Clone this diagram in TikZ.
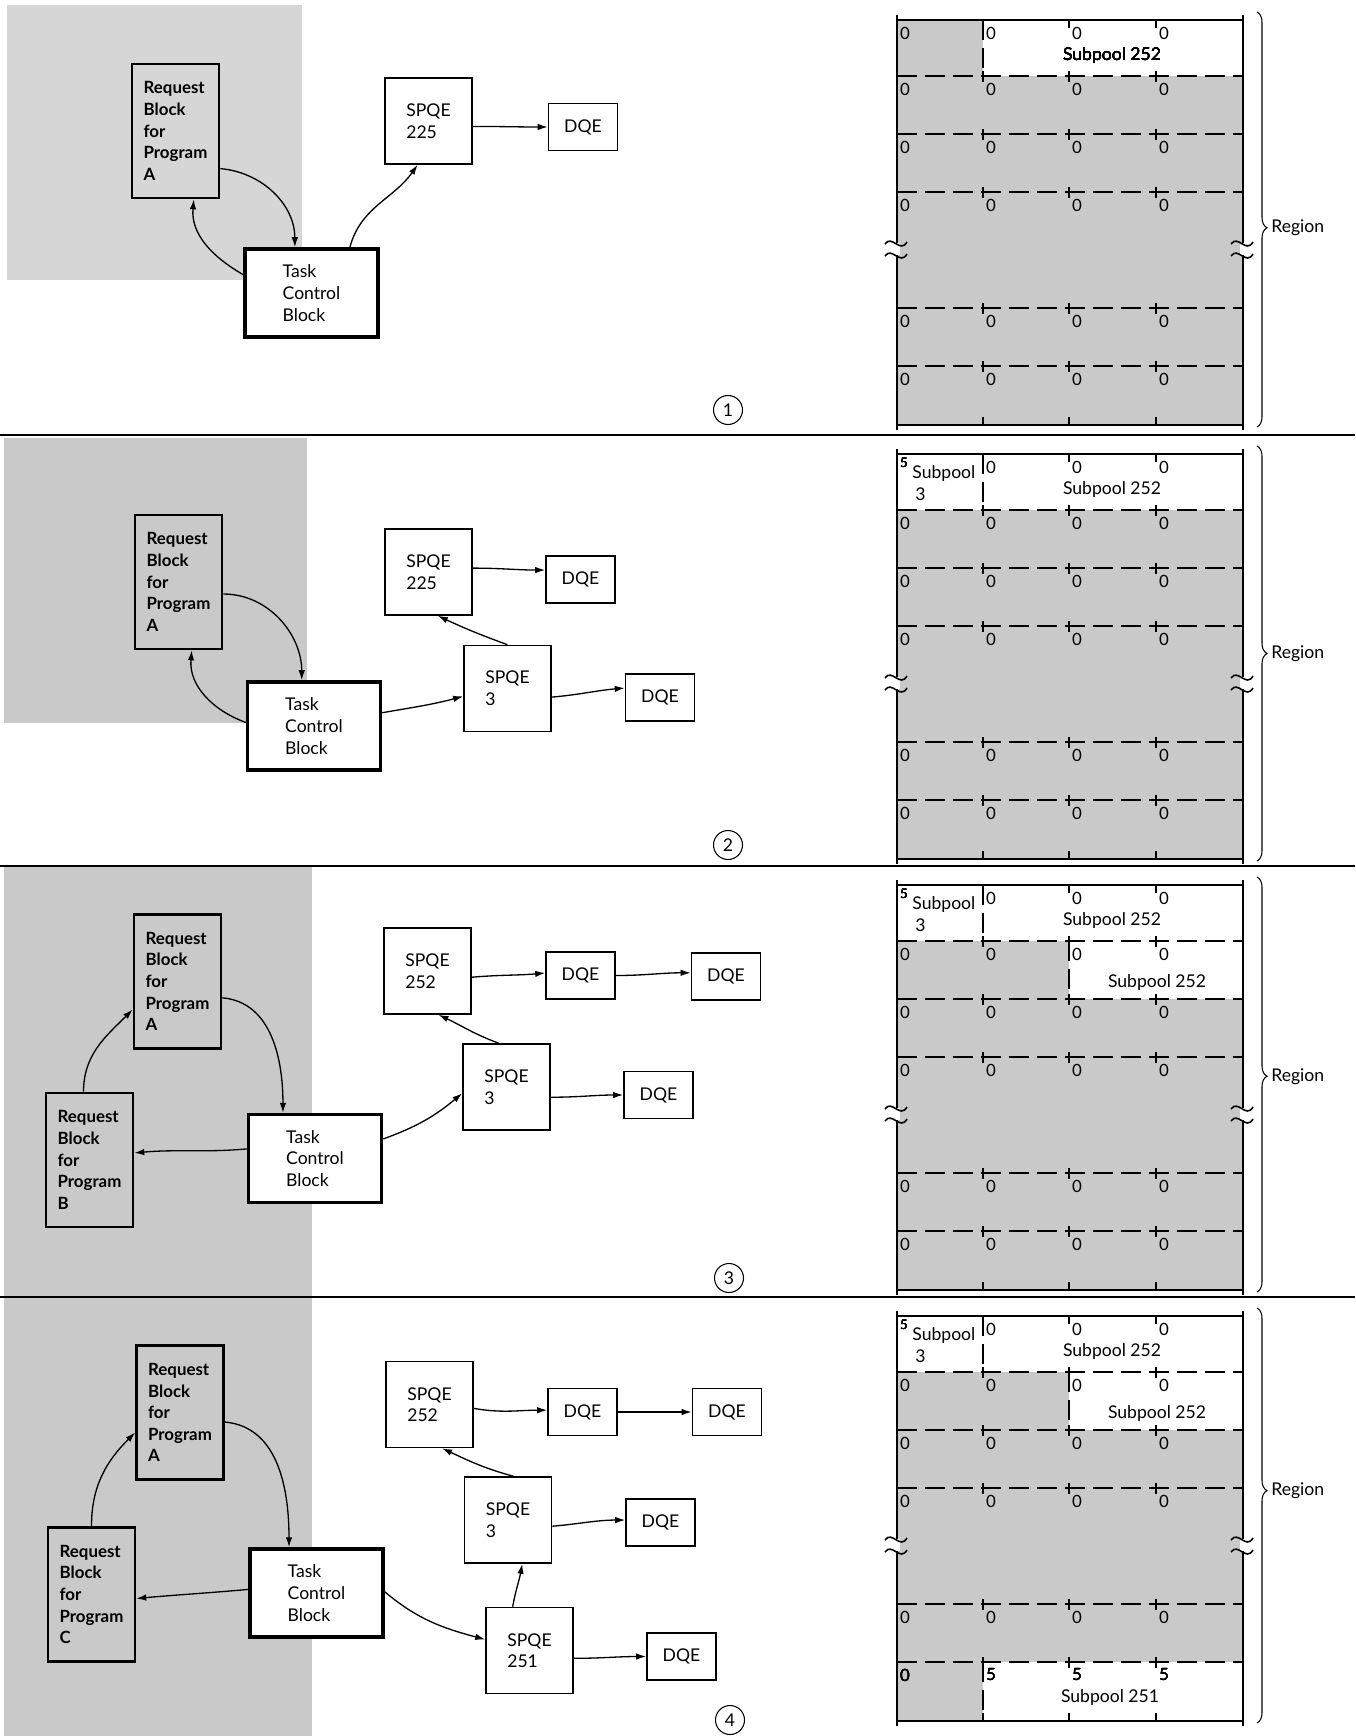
\documentclass[tikz,border=0pt]{standalone}
\usepackage{fontspec}
\setmainfont{Lato}
\usetikzlibrary{arrows.meta,decorations.pathreplacing}
\definecolor{paneltone}{gray}{0.79}
\definecolor{lighttone}{gray}{0.84}
\definecolor{maptone}{gray}{0.79}
\tikzset{
  cbbox/.style={draw, align=left, inner sep=0pt, line width=0.9pt, fill=white,
    font=\fontsize{10}{12.3}\selectfont},
  rbbox/.style={cbbox, fill=none, line width=1.5pt, minimum width=17.4mm,
    minimum height=26.8mm, font=\bfseries\fontsize{9.6}{12.3}\selectfont},
  tcbbox/.style={cbbox, line width=2pt, minimum width=26.6mm, minimum height=17.6mm},
  spqebox/.style={cbbox, minimum width=17.4mm, minimum height=17.2mm},
  dqebox/.style={cbbox, minimum width=13.8mm, minimum height=9.4mm},
  ptr/.style={-{Latex[length=2mm,width=1.3mm]}, line width=0.75pt},
  stepno/.style={circle, draw, line width=0.6pt, minimum size=5.8mm, inner sep=0pt,
    font=\fontsize{10}{11}\selectfont},
  cellnum/.style={font=\fontsize{9.6}{10}\selectfont, inner sep=0pt},
  smallnum/.style={font=\fontsize{7.5}{8}\selectfont, inner sep=0pt},
  poolname/.style={font=\fontsize{10}{12.5}\selectfont, inner sep=0pt, align=left},
  mapline/.style={line width=1pt},
  mapdash/.style={line width=1pt, dash pattern=on 4mm off 1.6mm},
  separator/.style={line width=1.2pt},
}
% grid, ticks, breaks and brace of one region map: #1 = top, #2 = brace aspect
\newcommand\regionmap[2]{%
  \foreach \row in {56,114,172,288,346} {
    \draw[mapdash] (897,#1+\row) -- (1243,#1+\row);
    \foreach \col in {983,1069,1156}
      \draw[mapline] (\col,#1+\row-5) -- (\col,#1+\row+6);
  }
  \foreach \col in {1069,1156}
    \draw[mapline] (\col,#1) -- (\col,#1+8);
  \foreach \col in {983,1069,1156}
    \draw[mapline] (\col,#1+405) -- (\col,#1+397);
  \draw[mapline] (897,#1) -- (1243,#1) (897,#1+405) -- (1243,#1+405);
  \draw[mapline] (897,#1-5) -- (897,#1+410) (1243,#1-5) -- (1243,#1+410);
  \foreach \x in {897,1243} {
    \fill[white] (\x-3,#1+223) rectangle (\x+3,#1+235);
    \foreach \dy in {0,12}
      \draw[line width=0.9pt] (\x-12,#1+224+\dy) .. controls (\x-5,#1+214+\dy)
        and (\x+3,#1+234+\dy) .. (\x+10,#1+222+\dy);
  }
  \draw[line width=0.6pt, decorate, decoration={brace, amplitude=2mm, aspect=#2}]
    (1257,#1-8) -- (1257,#1+407);
  \node[poolname, anchor=west] (region#1) at (1271,#1-8+#2*415) {Region};
}
% one row of cell marks: #1 name, #2 y, #3 columns, #4 mark
\newcommand\cellmarks[4]{%
  \foreach \col in {#3}
    \node[cellnum] (#1-\col) at (\col+8,#2) {#4};
}

\begin{document}
\begin{tikzpicture}[x=0.2mm, y=-0.2mm]
  \useasboundingbox (0,0) rectangle (1355,1736);
  % shaded areas behind the request blocks
  \fill[lighttone] (7,5) rectangle (302,280);
  \fill[paneltone] (4,438) rectangle (307,723);
  \fill[paneltone] (4,867) rectangle (312,1297);
  \fill[paneltone] (4,1297) rectangle (312,1736);
  \foreach \y in {435,866,1297}
    \draw[separator] (0,\y) -- (1355,\y);

  % ---------- step 1 ----------
  \fill[maptone] (897,20) rectangle (1243,425);
  \fill[white] (983,20) rectangle (1243,76);
  \draw[mapdash] (983,20) -- (983,76);
  \regionmap{20}{0.52}
  \foreach \row in {0,56,114,172,288,346}
    \cellmarks{za\row}{33+\row}{897,983,1069,1156}{0}
  \node[poolname] (pool252a) at (1112,56) {Subpool 252};

  \node[rbbox] (rbA1) at (175.5,131) {Request\\Block\\for\\Program\\A};
  \node[tcbbox] (tcb1) at (311.5,293) {Task\\Control\\Block};
  \node[spqebox] (spqe1) at (428.5,121) {SPQE\\225};
  \node[dqebox] (dqe1) at (583,127) {DQE};
  \draw[ptr] (rbA1.-40) to[out=-5,in=90] (tcb1.110);
  \draw[ptr] (tcb1.165) to[out=150,in=-95] (rbA1.-75);
  \draw[ptr] (tcb1.50) to[out=75,in=-125] (spqe1.-104);
  \draw[ptr] (spqe1.-7) to[out=0,in=180] (dqe1.west);
  \node[stepno] (step1) at (728,410) {1};

  % ---------- step 2 ----------
  \fill[maptone] (897,454) rectangle (1243,859);
  \fill[white] (897,454) rectangle (1243,510);
  \draw[mapdash] (983,454) -- (983,510);
  \regionmap{454}{0.50}
  \cellmarks{zb0}{467}{983,1069,1156}{0}
  \foreach \row in {56,114,172,288,346}
    \cellmarks{zb\row}{467+\row}{897,983,1069,1156}{0}
  \node[smallnum] (five2) at (904,463) {5};
  \node[poolname, anchor=north west] (pool3b) at (912,465) {Subpool\\\,3};
  \node[poolname] (pool252b) at (1112,490) {Subpool 252};

  \node[rbbox] (rbA2) at (178.5,582) {Request\\Block\\for\\Program\\A};
  \node[tcbbox] (tcb2) at (314,726) {Task\\Control\\Block};
  \node[spqebox] (spqe2a) at (428.5,572) {SPQE\\225};
  \node[dqebox] (dqe2a) at (580.5,579.5) {DQE};
  \node[spqebox] (spqe2b) at (507.5,688.5) {SPQE\\3};
  \node[dqebox] (dqe2b) at (660,697.5) {DQE};
  \draw[ptr] (rbA2.-15) to[out=0,in=90] (tcb2.105);
  \draw[ptr] (tcb2.177) to[out=160,in=-95] (rbA2.-79);
  \draw[ptr] (tcb2.11) to[out=10,in=195] (spqe2b.190);
  \draw[ptr] (spqe2b.north) to[out=160,in=-25] (spqe2a.-78);
  \draw[ptr] (spqe2a.5) to[out=0,in=180] (dqe2a.165);
  \draw[ptr] (spqe2b.-11) to[out=5,in=185] (dqe2b.165);
  \node[stepno] (step2) at (728,845) {2};

  % ---------- step 3 ----------
  \fill[maptone] (897,885) rectangle (1243,1290);
  \fill[white] (897,885) rectangle (1243,941);
  \fill[white] (1069,941) rectangle (1243,999);
  \draw[mapdash] (983,885) -- (983,941);
  \draw[mapdash] (1069,941) -- (1069,999);
  \regionmap{885}{0.48}
  \cellmarks{zc0}{898}{983,1069,1156}{0}
  \foreach \row in {56,114,172,288,346}
    \cellmarks{zc\row}{898+\row}{897,983,1069,1156}{0}
  \node[smallnum] (five3) at (904,894) {5};
  \node[poolname, anchor=north west] (pool3c) at (912,896) {Subpool\\\,3};
  \node[poolname] (pool252c) at (1112,921) {Subpool 252};
  \node[poolname] (pool252cc) at (1157,983) {Subpool 252};

  \node[rbbox] (rbA3) at (177.5,981.5) {Request\\Block\\for\\Program\\A};
  \node[rbbox] (rbB3) at (89.5,1160) {Request\\Block\\for\\Program\\B};
  \node[tcbbox] (tcb3) at (315,1158.5) {Task\\Control\\Block};
  \node[spqebox] (spqe3a) at (427.5,971) {SPQE\\252};
  \node[dqebox] (dqe3a) at (580.5,975.5) {DQE};
  \node[dqebox] (dqe3b) at (726,976.5) {DQE};
  \node[spqebox] (spqe3b) at (506.5,1087) {SPQE\\3};
  \node[dqebox] (dqe3c) at (658.5,1095) {DQE};
  \draw[ptr] (rbB3.95) to[out=90,in=-135] (rbA3.-148);
  \draw[ptr] (rbA3.-20) to[out=-5,in=90] (tcb3.125);
  \draw[ptr] (tcb3.172) to[out=185,in=5] (rbB3.9);
  \draw[ptr] (tcb3.16) to[out=20,in=-140] (spqe3b.188);
  \draw[ptr] (spqe3b.100) to[out=160,in=-25] (spqe3a.-76);
  \draw[ptr] (spqe3a.-8) to[out=5,in=185] (dqe3a.176);
  \draw[ptr] (dqe3a.east) to[out=0,in=180] (dqe3b.174);
  \draw[ptr] (spqe3b.-13) to[out=0,in=180] (dqe3c.west);
  \node[stepno] (step3) at (729,1278) {3};

  % ---------- step 4 ----------
  \fill[maptone] (897,1316) rectangle (1243,1721);
  \fill[white] (897,1316) rectangle (1243,1372);
  \fill[white] (1069,1372) rectangle (1243,1430);
  \fill[white] (983,1662) rectangle (1243,1721);
  \draw[mapdash] (983,1316) -- (983,1372);
  \draw[mapdash] (1069,1372) -- (1069,1430);
  \draw[mapdash] (983,1662) -- (983,1721);
  \regionmap{1316}{0.44}
  \cellmarks{zd0}{1329}{983,1069,1156}{0}
  \foreach \row in {56,114,172,288}
    \cellmarks{zd\row}{1329+\row}{897,983,1069,1156}{0}
  \cellmarks{zd346}{1675}{897}{0}
  \cellmarks{zf346}{1675}{983,1069,1156}{5}
  \node[smallnum] (five4) at (904,1325) {5};
  \node[poolname, anchor=north west] (pool3d) at (912,1327) {Subpool\\\,3};
  \node[poolname] (pool252d) at (1112,1352) {Subpool 252};
  \node[poolname] (pool252dd) at (1157,1414) {Subpool 252};
  \node[poolname] (pool251d) at (1110,1698) {Subpool 251};

  \node[rbbox] (rbA4) at (180,1412.5) {Request\\Block\\for\\Program\\A};
  \node[rbbox] (rbC4) at (91.5,1594.5) {Request\\Block\\for\\Program\\C};
  \node[tcbbox] (tcb4) at (316.5,1593) {Task\\Control\\Block};
  \node[spqebox] (spqe4a) at (429.5,1404.5) {SPQE\\252};
  \node[dqebox] (dqe4a) at (582.5,1412) {DQE};
  \node[dqebox] (dqe4b) at (727,1412) {DQE};
  \node[spqebox] (spqe4b) at (508,1520) {SPQE\\3};
  \node[dqebox] (dqe4c) at (660.5,1522.5) {DQE};
  \node[spqebox] (spqe4c) at (529.5,1650.5) {SPQE\\251};
  \node[dqebox] (dqe4d) at (681.5,1656.5) {DQE};
  \draw[ptr] (rbC4.north) to[out=90,in=-135] (rbA4.-156);
  \draw[ptr] (rbA4.-12) to[out=-5,in=90] (tcb4.121);
  \draw[ptr] (tcb4.177) to[out=185,in=5] (rbC4.-5);
  \draw[ptr] (tcb4.1) to[out=-40,in=165] (spqe4c.166);
  \draw[ptr] (spqe4c.111) to[out=80,in=-100] (spqe4b.-72);
  \draw[ptr] (spqe4b.83) to[out=165,in=-25] (spqe4a.-74);
  \draw[ptr] (spqe4a.-5) to[out=-10,in=180] (dqe4a.177);
  \draw[ptr] (dqe4a.east) to[out=0,in=180] (dqe4b.west);
  \draw[ptr] (spqe4b.-8) to[out=5,in=180] (dqe4c.176);
  \draw[ptr] (spqe4c.-10) to[out=0,in=180] (dqe4d.west);
  \node[stepno] (step4) at (730,1720) {4};
\end{tikzpicture}
\end{document}
